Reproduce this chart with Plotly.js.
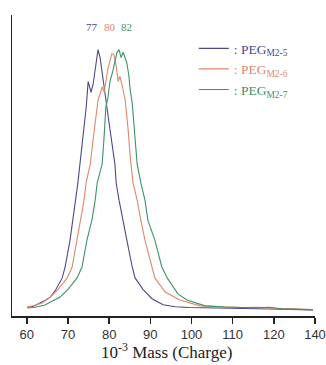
<!DOCTYPE html>
<html>
<head>
<meta charset="utf-8">
<script src="https://cdn.plot.ly/plotly-3.0.1.min.js"></script>
<style>html,body{margin:0;padding:0;background:#fff;}#chart{width:326px;height:365px;}</style>
</head>
<body>
<div id="chart"></div>
<script>
// Series names
const seriesNames = ['PEG<sub>M2-5</sub>', 'PEG<sub>M2-6</sub>', 'PEG<sub>M2-7</sub>'];
const peakLabels = ['77', '80', '82'];
const xTitle = '10<sup>-3</sup> Mass (Charge)';

// x-axis ticks (as printed in the original)
const tickValues = [60, 70, 80, 90, 100, 110, 120, 130];
const tickLabels = ['60', '70', '80', '90', '100', '110', '120', '140'];

// PEG M2-5 (blue)
const massM25 = [60.1, 61.5, 63.2, 64.4, 65.7, 66.9, 68.6, 69.3, 70.5, 71.2, 71.8, 72.4, 72.9, 73.9, 74.4, 74.9, 75.6, 76.1, 76.6, 77.3, 77.8, 78.3, 79.2, 80.2, 81.4, 81.7, 82.4, 83.4, 84.3, 85.6, 86.3, 88.2, 90.4, 93.1, 96.0, 99.6, 104.5, 108.0, 111.8, 116.0, 119.1, 124.0, 129.5];
const intM25  = [3.4, 3.6, 4.9, 5.8, 7.1, 9.5, 14.3, 18.4, 28.5, 36, 43.5, 50, 57, 70, 78, 88, 84, 87, 93, 100, 97, 91, 81, 70, 57, 50, 43.5, 35, 28.5, 18.4, 14.3, 10, 6.5, 4.2, 3.5, 3.2, 3.0, 3.1, 2.9, 2.8, 2.6, 2.5, 2.3];

// PEG M2-6 (red)
const massM26 = [60.1, 61.5, 63.7, 65.7, 67.6, 69.8, 71.0, 72.2, 73.1, 73.9, 74.4, 75.4, 76.4, 77.3, 78.3, 78.8, 79.7, 80.7, 81.2, 81.7, 82.2, 82.6, 83.1, 83.9, 84.6, 85.1, 85.8, 86.8, 87.7, 88.7, 90.4, 91.1, 93.6, 97.2, 102.1, 106.0, 112.0, 116.0, 120.0, 125.0, 129.5];
const intM26  = [3.4, 3.8, 4.9, 7.1, 10, 14.3, 18.4, 28.5, 36, 43.5, 50, 57, 70, 81, 86, 84, 93, 98.6, 98, 94, 88, 90, 87, 81, 70, 60, 50, 43.5, 36, 28.5, 18.4, 14.3, 9, 6, 3.8, 3.5, 3.2, 3.3, 2.8, 2.7, 2.4];

// PEG M2-7 (green)
const massM27 = [60.1, 62.0, 64.4, 68.1, 70.0, 72.2, 73.4, 74.6, 75.8, 76.6, 77.1, 78.3, 78.8, 79.2, 79.7, 80.2, 80.9, 81.4, 81.9, 82.4, 82.9, 83.4, 84.3, 84.8, 85.1, 85.6, 86.3, 86.8, 87.7, 88.7, 89.4, 91.1, 92.8, 94.1, 96.7, 98.9, 103.3, 108.0, 115.0, 119.0, 122.0, 129.5];
const intM27  = [3.0, 3.3, 4.1, 7.1, 10, 14.3, 18.4, 28.5, 36, 43.5, 50, 57, 68, 78.5, 82, 88, 92, 96, 99, 100, 97, 99, 95, 90, 85, 80, 68, 57, 50, 43.5, 36, 28.5, 18.4, 14.3, 8.3, 6, 3.8, 3.4, 3.1, 3.3, 2.7, 2.3];

const colors = ['#4a4a8c', '#e0876a', '#3d9466'];
const series = [[massM25, intM25], [massM26, intM26], [massM27, intM27]];

const traces = series.map((s, i) => ({
  x: s[0], y: s[1], type: 'scatter', mode: 'lines',
  name: '<span style="color:' + colors[i] + '">: ' + seriesNames[i] + '</span>',
  line: {color: colors[i], width: 1.1}
}));

const peakX = [75.9, 80.2, 84.1];
const annotations = peakLabels.map((t, i) => ({
  x: peakX[i], xref: 'x', y: 0.987, yref: 'paper', text: t, showarrow: false,
  font: {family: 'Liberation Serif', size: 11, color: colors[i]}
}));
// x-axis title placed as an annotation so it sits as close to the tick labels as in the original
annotations.push({
  x: 0.51, xref: 'paper', y: -0.117, yref: 'paper', yanchor: 'middle', text: xTitle,
  showarrow: false, font: {family: 'Liberation Serif', size: 17, color: '#222'}
});

const layout = {
  width: 326, height: 365,
  margin: {l: 12, r: 11, t: 15, b: 49},
  paper_bgcolor: '#fff', plot_bgcolor: '#fff',
  showlegend: true,
  legend: {x: 0.6, y: 0.94, xanchor: 'left', yanchor: 'top', bgcolor: 'rgba(0,0,0,0)',
           font: {family: 'Liberation Serif', size: 13.5, color: '#444'}, tracegroupgap: 0},
  xaxis: {
    range: [56.4, 130], tickvals: tickValues, ticktext: tickLabels,
    ticks: 'outside', ticklen: 6, tickwidth: 1.5, tickcolor: '#222',
    showline: true, linecolor: '#222', linewidth: 1.5,
    showgrid: false, zeroline: false,
    tickfont: {family: 'Liberation Sans', size: 13, color: '#333'}
  },
  yaxis: {
    range: [0, 113], showline: true, linecolor: '#222', linewidth: 1.5,
    showticklabels: false, ticks: '', showgrid: false, zeroline: false
  },
  annotations: annotations
};

Plotly.newPlot('chart', traces, layout, {displayModeBar: false, staticPlot: true});
</script>
</body>
</html>
